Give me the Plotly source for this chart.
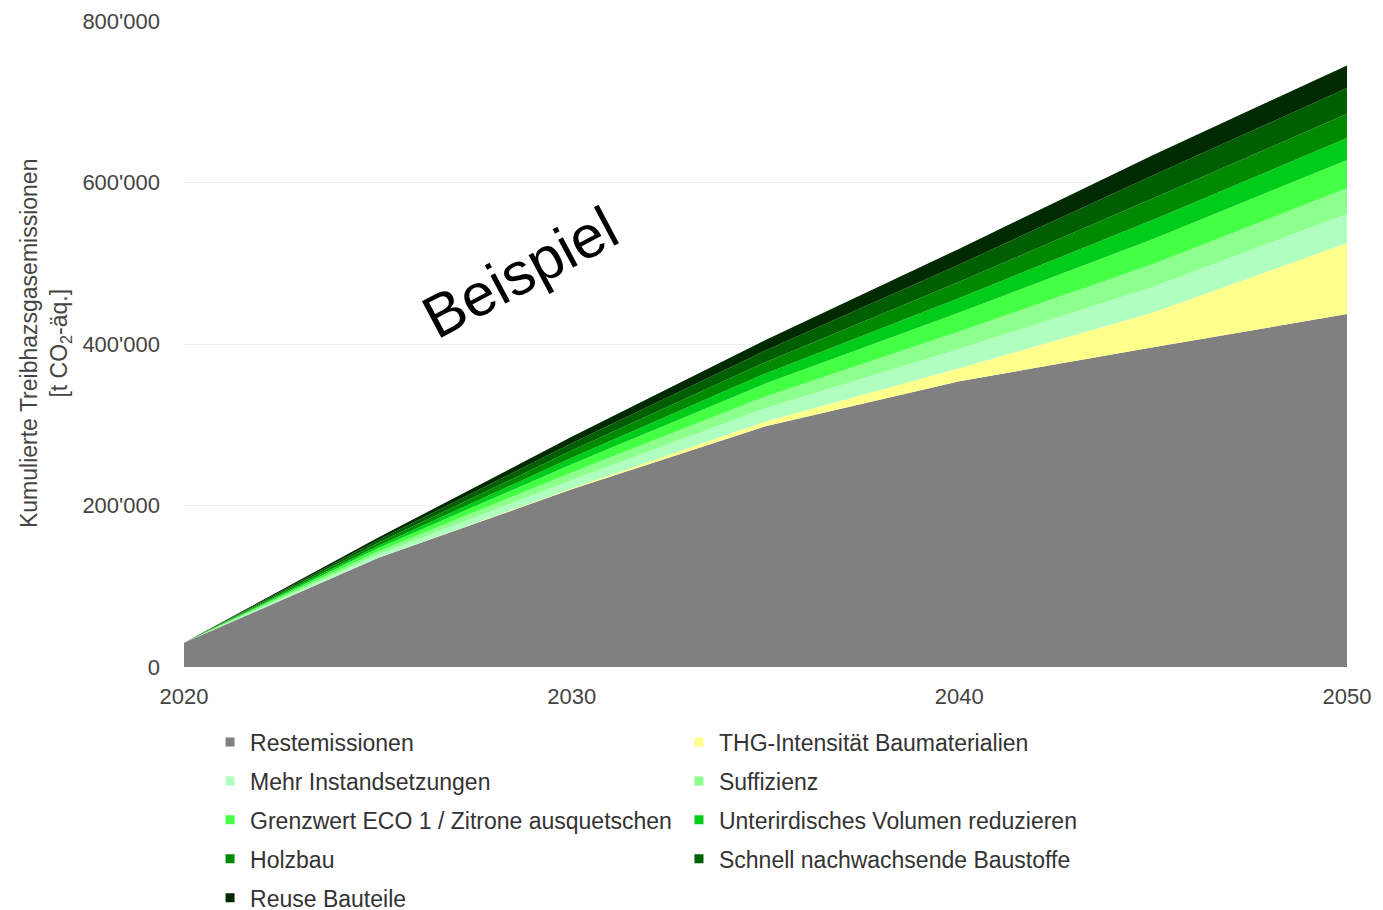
import plotly.graph_objects as go

years = [2020, 2025, 2030, 2035, 2040, 2045, 2050]

series_names = [
    "Restemissionen",
    "THG-Intensität Baumaterialien",
    "Mehr Instandsetzungen",
    "Suffizienz",
    "Grenzwert ECO 1 / Zitrone ausquetschen",
    "Unterirdisches Volumen reduzieren",
    "Holzbau",
    "Schnell nachwachsende Baustoffe",
    "Reuse Bauteile",
]

restemissionen = [30000, 135000, 220000, 298000, 354000, 396000, 437000]
thg_intensitaet = [0, 0, 1000, 6000, 16000, 43000, 88000]
mehr_instandsetzungen = [0, 4000, 10500, 16500, 24000, 32000, 36000]
suffizienz = [0, 4000, 9500, 14500, 21500, 28000, 32000]
grenzwert_eco = [0, 4000, 10000, 16000, 23500, 31000, 35000]
unterirdisch = [0, 3000, 8000, 12500, 18000, 24000, 27000]
holzbau = [0, 3500, 9000, 14000, 20000, 26500, 30000]
schnell = [0, 3500, 9000, 14500, 21500, 28500, 32000]
reuse = [0, 3000, 8000, 13000, 19500, 25000, 28000]

values = [restemissionen, thg_intensitaet, mehr_instandsetzungen, suffizienz,
          grenzwert_eco, unterirdisch, holzbau, schnell, reuse]

colors = ["#808080", "#ffff8c", "#b0ffc0", "#8cff8c", "#44ff44",
          "#00cc1a", "#008a00", "#005f00", "#002a00"]

y_tickvals = [0, 200000, 400000, 600000, 800000]
y_ticktext = ["0", "200'000", "400'000", "600'000", "800'000"]
x_tickvals = [2020, 2030, 2040, 2050]

FONT = "Liberation Sans, Arial, sans-serif"

fig = go.Figure()

for name, vals, col in zip(series_names, values, colors):
    fig.add_trace(go.Scatter(
        x=years, y=vals, name=name, mode="none",
        stackgroup="one", fillcolor=col, showlegend=False,
        hoverinfo="name+y",
    ))

# legend entries (two columns)
for i, (name, col) in enumerate(zip(series_names, colors)):
    fig.add_trace(go.Scatter(
        x=[None], y=[None], name=name, mode="markers",
        marker=dict(symbol="square", size=9, color=col),
        legend="legend" if i % 2 == 0 else "legend2",
        legendgroup=f"g{i}", showlegend=True,
    ))

legend_common = dict(
    orientation="v", traceorder="grouped", tracegroupgap=6,
    font=dict(family=FONT, size=23, color="#333333"),
    bgcolor="rgba(0,0,0,0)", borderwidth=0,
    yanchor="top", xanchor="left",
)

fig.update_layout(
    width=1375, height=935,
    margin=dict(l=176, r=36, t=13, b=276),
    paper_bgcolor="white", plot_bgcolor="white",
    font=dict(family=FONT, color="#444444"),
    xaxis=dict(
        range=[2020, 2050], tickvals=x_tickvals,
        showgrid=False, zeroline=False, showline=False,
        tickfont=dict(size=22, color="#444444"),
        ticklabelstandoff=14, automargin=False,
    ),
    yaxis=dict(
        range=[0, 800000], tickvals=y_tickvals, ticktext=y_ticktext,
        showgrid=True, gridcolor="#ededed", gridwidth=1,
        zeroline=False, showline=False,
        tickfont=dict(size=22, color="#444444"),
        ticklabelstandoff=23, automargin=False,
    ),
    legend=dict(x=0.0224, y=-0.083, **legend_common),
    legend2=dict(x=0.4256, y=-0.083, **legend_common),
    annotations=[
        dict(
            text="Kumulierte Treibhazsgasemissionen<br>[t CO<sub>2</sub>-äq.]",
            xref="paper", yref="paper", x=-0.1195, y=0.5,
            xanchor="center", yanchor="middle", textangle=-90,
            showarrow=False,
            font=dict(family=FONT, size=23, color="#444444"),
        ),
        dict(
            text="Beispiel",
            xref="paper", yref="paper", x=0.289, y=0.611,
            xanchor="center", yanchor="middle", textangle=-28,
            showarrow=False,
            font=dict(family=FONT, size=60, color="#000000"),
        ),
    ],
)

fig.write_html("out.html")
